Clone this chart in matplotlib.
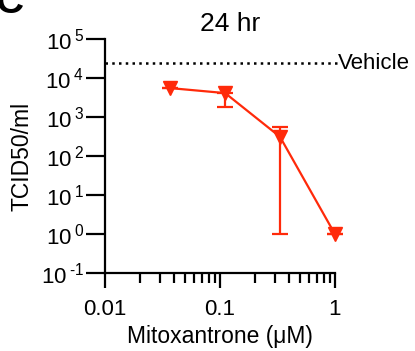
import matplotlib
matplotlib.use("Agg")
import matplotlib.pyplot as plt
from matplotlib.ticker import LogLocator, FixedLocator, NullLocator

plt.rcParams['font.family'] = ['Liberation Sans', 'DejaVu Sans']
plt.rcParams['mathtext.fontset'] = 'custom'
plt.rcParams['mathtext.rm'] = 'Liberation Sans'
plt.rcParams['mathtext.it'] = 'Liberation Sans'
plt.rcParams['mathtext.bf'] = 'Liberation Sans:bold'

# Mitoxantrone dose (uM) and titre (TCID50/ml)
dose = [0.037, 0.111, 0.333, 1.0]
titre = [5500, 4100, 310, 1.0]
err_low = [5500, 1800, 1.0, 1.0]
err_high = [5500, 4100, 550, 1.0]
vehicle = 24000

y_ticks = [1e-1, 1, 1e1, 1e2, 1e3, 1e4, 1e5]
y_labels = ['10$^{\\;\\text{-}1}$', '10$^{\\;0}$', '10$^{\\;1}$', '10$^{\\;2}$',
            '10$^{\\;3}$', '10$^{\\;4}$', '10$^{\\;5}$']
x_ticks = [0.01, 0.1, 1]
x_labels = ['0.01', '0.1', '1']

red = '#ff2a0a'

fig = plt.figure(figsize=(4.15, 3.51), dpi=100)
ax = fig.add_axes([0.253, 0.222, 0.554, 0.667])

lo = [t - l for t, l in zip(titre, err_low)]
hi = [h - t for t, h in zip(titre, err_high)]
ax.errorbar(dose, titre, yerr=[lo, hi], color=red, lw=1.6, marker='v',
            ms=9.5, capsize=6, capthick=1.6, elinewidth=1.6, clip_on=False)

ax.plot([0.01, 1.06], [vehicle, vehicle], color='black', ls=(0, (1, 1.7)),
        lw=1.8, clip_on=False)
ax.text(1.07, vehicle, 'Vehicle', fontsize=16, va='center', ha='left')

ax.set_xscale('log')
ax.set_yscale('log')
ax.set_xlim(0.01, 1)
ax.set_ylim(1e-1, 1e5)

ax.xaxis.set_major_locator(FixedLocator(x_ticks))
ax.set_xticklabels(x_labels)
ax.xaxis.set_minor_locator(LogLocator(base=10, subs=range(2, 10)))
ax.xaxis.set_minor_formatter(plt.NullFormatter())
ax.yaxis.set_major_locator(FixedLocator(y_ticks))
ax.set_yticklabels(y_labels)
ax.yaxis.set_minor_locator(NullLocator())

for s in ['top', 'right']:
    ax.spines[s].set_visible(False)
for s in ['left', 'bottom']:
    ax.spines[s].set_linewidth(1.6)

ax.tick_params(which='major', length=11, width=1.6, labelsize=16)
ax.tick_params(axis='x', which='major', pad=8)
ax.tick_params(which='minor', length=7, width=1.6)
ax.tick_params(axis='y', length=14, pad=1)

ax.set_xlabel('Mitoxantrone (\u03bcM)', fontsize=16.5, labelpad=3)
ax.set_ylabel('TCID50/ml', fontsize=16.5, labelpad=5)
ax.set_title('24 hr', fontsize=19, pad=6, x=0.543)

fig.text(-0.012, 0.963, 'C', fontsize=28, fontweight='bold', ha='left', va='baseline')

fig.savefig('out.png', dpi=100)
